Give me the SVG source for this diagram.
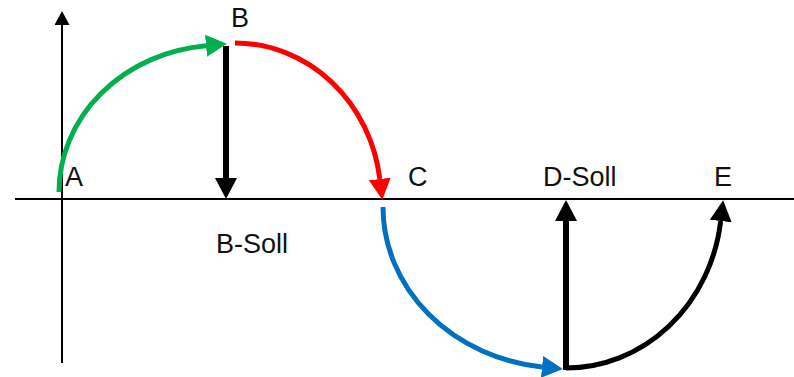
<svg xmlns="http://www.w3.org/2000/svg" width="794" height="377" viewBox="0 0 794 377">
<style>
.lbl{font-family:"Liberation Sans",Arial,sans-serif;font-size:27px;fill:#111}
.ax{stroke:#000;stroke-width:2;fill:none}
.arc{fill:none;stroke-width:5}
</style>
<defs>
<marker id="mg" viewBox="0 0 21 22" refX="0" refY="11" markerWidth="21" markerHeight="22" markerUnits="userSpaceOnUse" orient="auto"><path d="M0,0 L21,11 L0,22 z" fill="#00B050"/></marker>
<marker id="mr" viewBox="0 0 21 22" refX="0" refY="11" markerWidth="21" markerHeight="22" markerUnits="userSpaceOnUse" orient="auto"><path d="M0,0 L21,11 L0,22 z" fill="#FF0000"/></marker>
<marker id="mb" viewBox="0 0 21 22" refX="0" refY="11" markerWidth="21" markerHeight="22" markerUnits="userSpaceOnUse" orient="auto"><path d="M0,0 L21,11 L0,22 z" fill="#0070C0"/></marker>
<marker id="mk" viewBox="0 0 21 22" refX="0" refY="11" markerWidth="21" markerHeight="22" markerUnits="userSpaceOnUse" orient="auto"><path d="M0,0 L21,11 L0,22 z" fill="#000"/></marker>
<marker id="ma" viewBox="0 0 14 15" refX="0" refY="7.5" markerWidth="14" markerHeight="15" markerUnits="userSpaceOnUse" orient="auto"><path d="M0,0 L14,7.5 L0,15 z" fill="#000"/></marker>
</defs>
<g id="axes">
<line class="ax" x1="15" y1="199" x2="794" y2="199"/>
<line class="ax" x1="62" y1="363" x2="62" y2="25" marker-end="url(#ma)"/>
</g>
<g id="connectors">
<path class="arc" stroke="#00B050" d="M59,192 A163,147 0 0 1 206,45.7" marker-end="url(#mg)"/>
<path class="arc" stroke="#FF0000" d="M235,43 A146,156 0 0 1 379.8,179" marker-end="url(#mr)"/>
<path class="arc" stroke="#0070C0" d="M383,207 A180,161 0 0 0 542,366.9" marker-end="url(#mb)"/>
<path class="arc" stroke="#000" d="M566,368 A156,168 0 0 0 720.7,221" marker-end="url(#mk)"/>
<line stroke="#000" stroke-width="6" x1="226" y1="46" x2="226" y2="178" marker-end="url(#mk)"/>
<line stroke="#000" stroke-width="6" x1="566" y1="370" x2="566" y2="221" marker-end="url(#mk)"/>
</g>
<g id="A"><text class="lbl" x="65" y="186">A</text></g>
<g id="B"><text class="lbl" x="231" y="27">B</text></g>
<g id="B-Soll"><text class="lbl" x="216" y="253">B-Soll</text></g>
<g id="C"><text class="lbl" x="408" y="186">C</text></g>
<g id="D-Soll"><text class="lbl" x="543" y="186">D-Soll</text></g>
<g id="E"><text class="lbl" x="714" y="186">E</text></g>
</svg>
